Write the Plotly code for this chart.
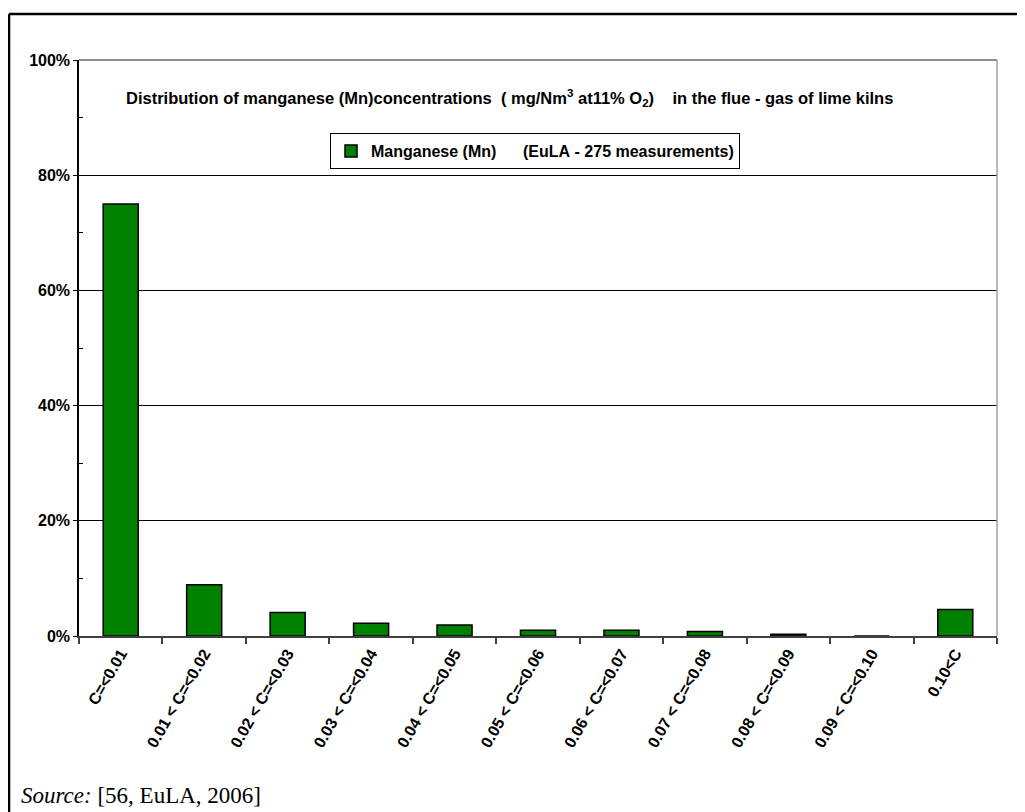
import plotly.graph_objects as go

categories = ["C=<0.01", "0.01 < C=<0.02", "0.02 < C=<0.03", "0.03 < C=<0.04",
              "0.04 < C=<0.05", "0.05 < C=<0.06", "0.06 < C=<0.07", "0.07 < C=<0.08",
              "0.08 < C=<0.09", "0.09 < C=<0.10", "0.10<C"]
values = [75.0, 8.9, 4.1, 2.2, 1.9, 1.0, 1.0, 0.8, 0.3, 0.0, 4.6]
series_name = "Manganese (Mn)\u00a0\u00a0\u00a0\u00a0\u00a0\u00a0(EuLA\u00a0-\u00a0275 measurements)"
y_ticks = [0, 20, 40, 60, 80, 100]
y_ticktext = ["0%", "20%", "40%", "60%", "80%", "100%"]
y_minor = [10, 30, 50, 70, 90]

# page has an 8px body margin; figure coords = screen - 8
OFF = 8
W, H = 1017, 804
L, R, T, B = 79 - OFF, 997 - OFF, 60 - OFF, 636 - OFF

def px_x(p):
    return (p - OFF - L) / (R - L)

def px_y(p):
    return (B - (p - OFF)) / (B - T)

font_sans = "Liberation Sans, Arial, sans-serif"

fig = go.Figure()
fig.add_trace(go.Bar(
    x=categories, y=values, name=series_name, width=0.42,
    marker=dict(color="#008000", line=dict(color="#000000", width=1.5)),
    showlegend=True,
))

fig.update_layout(
    width=W, height=H,
    margin=dict(l=L, r=W - R, t=T, b=H - B, pad=0),
    paper_bgcolor="white", plot_bgcolor="white",
    font=dict(family=font_sans, color="black"),
    showlegend=True,
    legend=dict(
        x=px_x(535), y=px_y(133), xanchor="center", yanchor="top",
        bordercolor="black", borderwidth=1, bgcolor="white",
        font=dict(size=16, family=font_sans, weight="bold"),
        itemwidth=30,
    ),
)

fig.update_xaxes(
    type="category", showgrid=False, showline=True, linecolor="#404040", linewidth=2,
    ticks="outside", tickson="boundaries", ticklen=6, tickcolor="#404040", tickwidth=1.5,
    tickangle=-60, tickfont=dict(size=16, family=font_sans, weight="bold"),
    zeroline=False,
)
fig.update_yaxes(
    range=[0, 100], tickvals=y_ticks, ticktext=y_ticktext,
    showgrid=True, gridcolor="black", gridwidth=1,
    showline=True, linecolor="black", linewidth=1.5,
    ticks="outside", ticklen=4, tickcolor="black",
    tickfont=dict(size=16, family=font_sans, weight="bold"),
    minor=dict(tickvals=y_minor, ticks="inside", ticklen=4, tickcolor="black", showgrid=False),
    zeroline=False,
)

# plot border (top/right gray)
fig.add_shape(type="line", xref="paper", yref="paper", x0=0, x1=1, y0=1, y1=1,
              line=dict(color="#8c8c8c", width=2), layer="above")
fig.add_shape(type="line", xref="paper", yref="paper", x0=1, x1=1, y0=0, y1=1,
              line=dict(color="#a0a0a0", width=1.5), layer="above")
# outer frame
fig.add_shape(type="line", xref="paper", yref="paper", x0=px_x(9), x1=px_x(1025), y0=px_y(14), y1=px_y(14),
              line=dict(color="black", width=2.5), layer="above")
fig.add_shape(type="line", xref="paper", yref="paper", x0=px_x(9), x1=px_x(9), y0=px_y(14), y1=px_y(812),
              line=dict(color="black", width=2.5), layer="above")

fig.add_annotation(
    text="Distribution of manganese\u00a0(Mn)concentrations\u00a0\u00a0(\u00a0mg/Nm<sup>3</sup>\u00a0at11%\u00a0O<sub>2</sub>)\u00a0\u00a0\u00a0 in the flue\u00a0-\u00a0gas of lime kilns",
    x=px_x(509), y=px_y(98), xref="paper", yref="paper", xanchor="center", yanchor="middle",
    showarrow=False, font=dict(size=16.5, family=font_sans, weight="bold"),
)
fig.add_annotation(
    text="<i>Source:</i> [56, EuLA, 2006]",
    x=px_x(19), y=px_y(795), xref="paper", yref="paper", xanchor="left", yanchor="middle",
    showarrow=False, font=dict(size=23, family="Liberation Serif, Times New Roman, serif"),
)

fig.write_html("out.html")
